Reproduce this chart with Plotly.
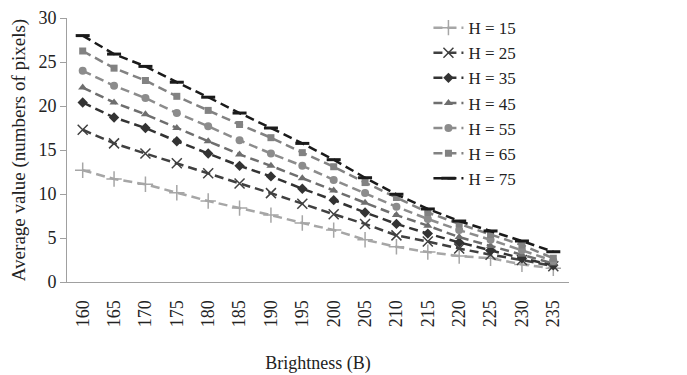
import plotly.graph_objects as go

brightness = ["160", "165", "170", "175", "180", "185", "190", "195",
              "200", "205", "210", "215", "220", "225", "230", "235"]

h15 = [12.7, 11.7, 11.1, 10.15, 9.2, 8.4, 7.6, 6.7, 5.9, 4.8, 4.0, 3.4, 2.95, 2.7, 2.0, 1.55]
h25 = [17.3, 15.75, 14.6, 13.5, 12.35, 11.2, 10.1, 8.9, 7.7, 6.6, 5.3, 4.6, 3.8, 3.1, 2.5, 1.8]
h35 = [20.4, 18.7, 17.5, 16.0, 14.6, 13.2, 12.0, 10.6, 9.3, 7.9, 6.6, 5.5, 4.5, 3.6, 2.7, 1.9]
h45 = [22.1, 20.4, 19.05, 17.5, 16.0, 14.5, 13.2, 11.8, 10.4, 9.0, 7.6, 6.4, 5.1, 4.1, 3.1, 2.1]
h55 = [24.0, 22.3, 20.9, 19.2, 17.7, 16.1, 14.6, 13.2, 11.6, 10.1, 8.55, 7.16, 5.9, 4.8, 3.6, 2.4]
h65 = [26.25, 24.3, 22.9, 21.1, 19.5, 17.9, 16.4, 14.7, 13.1, 11.3, 9.6, 7.9, 6.6, 5.4, 4.2, 2.7]
h75 = [28.0, 25.9, 24.5, 22.7, 21.0, 19.2, 17.5, 15.75, 13.9, 11.85, 9.97, 8.3, 6.93, 5.8, 4.66, 3.44]

names = ["H = 15", "H = 25", "H = 35", "H = 45", "H = 55", "H = 65", "H = 75"]
series = [h15, h25, h35, h45, h55, h65, h75]
colors = ["#a6a6a6", "#404040", "#333333", "#6e6e6e", "#8c8c8c", "#828282", "#1a1a1a"]
symbols = ["cross-thin", "x-thin", "diamond", "triangle-up", "circle", "square", "line-ew"]
sizes = [11, 10, 8, 8, 8, 7, 10]

fig = go.Figure()
for i, (n, s, c, sym, sz) in enumerate(zip(names, series, colors, symbols, sizes)):
    fig.add_trace(go.Scatter(
        x=brightness, y=s, name=n, mode="lines+markers",
        legendgroup=f"g{i}",
        line=dict(color=c, width=2.5, dash="9px,5px"),
        marker=dict(symbol=sym, size=sz, color=c,
                    line=dict(color=c, width=1.5 if sym in ("cross-thin", "x-thin") else (3 if sym == "line-ew" else 0))),
    ))

font = "Liberation Serif"
fig.update_layout(
    width=687, height=375,
    margin=dict(l=59, r=126, t=10, b=101, autoexpand=False),
    paper_bgcolor="white", plot_bgcolor="white",
    font=dict(family=font, size=15, color="#222222"),
    showlegend=True,
    legend=dict(x=0.72, y=1.03, xanchor="left", yanchor="top",
                font=dict(family=font, size=17, color="#222222"),
                tracegroupgap=0, bgcolor="rgba(0,0,0,0)", maxheight=320),
    xaxis=dict(type="category", range=[-0.5, 15.5], tickangle=-90,
               automargin=False,
               showline=True, linecolor="#a0a0a0", linewidth=1,
               showgrid=False, ticks="", ticklen=0, ticklabelstandoff=10,
               tickfont=dict(family=font, size=18, color="#222222"),
               title=dict(text="Brightness (B)", standoff=30,
                          font=dict(family=font, size=18, color="#222222"))),
    yaxis=dict(range=[0, 30], dtick=5, showline=True, linecolor="#a0a0a0",
               automargin=False,
               linewidth=1, showgrid=False, zeroline=False,
               ticks="outside", ticklen=6, tickcolor="#a0a0a0",
               tickfont=dict(family=font, size=18, color="#222222"),
               title=dict(text="Average value (numbers of pixels)", standoff=13,
                          font=dict(family=font, size=19, color="#222222"))),
)

fig.write_html("out.html")
